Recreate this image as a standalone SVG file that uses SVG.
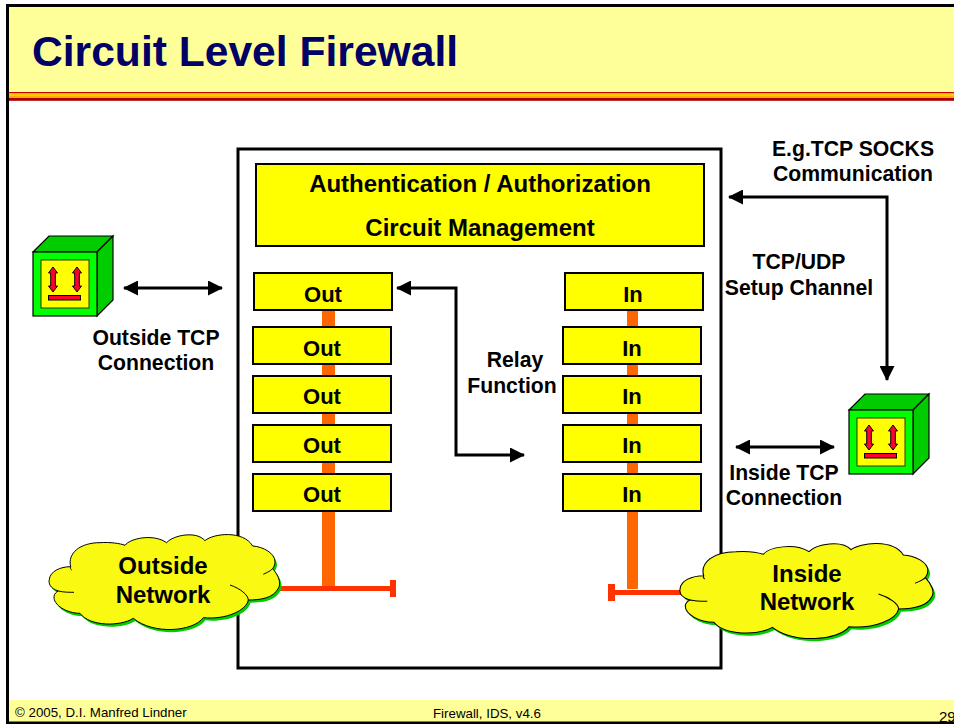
<svg xmlns="http://www.w3.org/2000/svg" width="954" height="724" viewBox="0 0 954 724">
<style>
text{font-family:"Liberation Sans",Arial,sans-serif;fill:#000}
.b{font-weight:bold;font-size:22px;text-anchor:middle}
.m{font-weight:bold;font-size:24px;text-anchor:middle}
.l{font-weight:bold;font-size:24px;text-anchor:middle}
.t{font-weight:bold;font-size:21.200px;text-anchor:middle}
.f{font-size:13.300px}
.box{fill:#ff0;stroke:#000;stroke-width:2}
.conn{fill:none;stroke:#000;stroke-width:3}
.or{fill:#f60}
.rd{fill:#f30}
.cl{fill:#f9f911;stroke:#000;stroke-width:3}
.clg{fill:#00cc00}
.inner{fill:none;stroke:#000;stroke-width:3}
.cf{stroke:#000;stroke-width:1.2}
</style>
<defs>
<marker id="ah" viewBox="0 0 15 15" refX="14" refY="7.5" markerWidth="15" markerHeight="15" markerUnits="userSpaceOnUse" orient="auto-start-reverse"><path d="M0,0L15,7.5L0,15Z" fill="#000"/></marker>
<path id="cp" d="M58,178C60,155 90,140 122,140C112,100 150,68 210,68C240,66 270,70 285,76C300,55 370,40 410,68C430,45 500,32 525,62C550,40 640,30 668,78C700,80 735,100 735,125C735,135 732,140 728,146C745,165 755,190 745,205C730,235 690,240 655,240C650,270 590,300 520,293C490,335 370,345 310,295C270,320 180,320 150,280C110,280 70,255 72,230C72,222 80,215 85,213C60,205 55,190 58,178Z"/>
<g id="cube">
<path class="cf" fill="#0c0" d="M0,0L16,-16H80L64,0Z"/>
<path class="cf" fill="#0c0" d="M64,0L80,-16V48L64,64Z"/>
<rect class="cf" fill="#0f0" width="64" height="64"/>
<rect x="8" y="8" width="48" height="48" fill="#ff0" stroke="#330" stroke-width="1"/>
<path id="ar" fill="#f03" stroke="#000" stroke-width="1" d="M20,15L24.500,21H22.300V34H24.500L20,40L15.500,34H17.700V21H15.500Z"/>
<use href="#ar" x="24"/>
<rect x="15.500" y="43.500" width="32" height="4.500" fill="#f03" stroke="#000" stroke-width="1"/>
</g>
</defs>
<rect width="954" height="724" fill="#fff"/>
<g id="frame">
<rect x="8" y="6" width="946" height="86" fill="#ffff99"/>
<rect x="8" y="700" width="946" height="22" fill="#ffff99"/>
<rect x="8" y="92" width="946" height="1.500" fill="#c00"/>
<rect x="8" y="93.500" width="946" height="2.500" fill="#fc0"/>
<rect x="8" y="96" width="946" height="2" fill="#fa0"/>
<rect x="8" y="98" width="946" height="2.800" fill="#a00"/>
<text x="32" y="65.500" font-size="42.600" font-weight="bold" style="fill:#000066">Circuit Level Firewall</text>
<text x="15" y="717" class="f">© 2005, D.I. Manfred Lindner</text>
<text x="433" y="717.500" class="f">Firewall, IDS, v4.6</text>
<text x="939" y="722" font-size="15">29</text>
<path d="M7.500,724V5.500H954" fill="none" stroke="#000" stroke-width="3"/>
<rect x="6" y="721.500" width="948" height="2.500" fill="#000"/>
</g>
<rect id="gateway" x="238" y="149" width="483" height="519" fill="#fff" stroke="#000" stroke-width="3"/>
<g id="buses">
<rect class="or" x="322" y="310" width="13" height="276"/>
<rect class="or" x="627" y="310" width="11" height="279"/>
<rect class="rd" x="275" y="586" width="118" height="5"/>
<rect class="rd" x="390" y="580" width="6" height="17"/>
<rect class="rd" x="610" y="590" width="80" height="5"/>
<rect class="rd" x="608" y="584" width="7" height="17"/>
</g>
<g id="auth"><rect class="box" x="256" y="164" width="448" height="82"/>
<text class="m" x="480" y="192">Authentication / Authorization</text>
<text class="m" x="480" y="236">Circuit Management</text></g>
<g id="out1"><rect class="box" x="254" y="273" width="138" height="37"/><text class="b" x="323" y="302">Out</text></g>
<g id="out2"><rect class="box" x="253" y="327" width="138" height="37"/><text class="b" x="322" y="356">Out</text></g>
<g id="out3"><rect class="box" x="253" y="376" width="138" height="37"/><text class="b" x="322" y="404">Out</text></g>
<g id="out4"><rect class="box" x="253" y="425" width="138" height="37"/><text class="b" x="322" y="453">Out</text></g>
<g id="out5"><rect class="box" x="253" y="474" width="138" height="37"/><text class="b" x="322" y="502">Out</text></g>
<g id="in1"><rect class="box" x="565" y="273" width="138" height="37"/><text class="b" x="633" y="302">In</text></g>
<g id="in2"><rect class="box" x="563" y="327" width="138" height="37"/><text class="b" x="632" y="356">In</text></g>
<g id="in3"><rect class="box" x="563" y="376" width="138" height="37"/><text class="b" x="632" y="404">In</text></g>
<g id="in4"><rect class="box" x="563" y="425" width="138" height="37"/><text class="b" x="632" y="453">In</text></g>
<g id="in5"><rect class="box" x="563" y="474" width="138" height="37"/><text class="b" x="632" y="502">In</text></g>
<g id="connectors">
<path class="conn" marker-start="url(#ah)" marker-end="url(#ah)" d="M124,288H222"/>
<path class="conn" marker-start="url(#ah)" marker-end="url(#ah)" d="M397,288H456V455H524"/>
<path class="conn" marker-start="url(#ah)" marker-end="url(#ah)" d="M729,197H887V380"/>
<path class="conn" marker-start="url(#ah)" marker-end="url(#ah)" d="M736,447H834"/>
</g>
<g id="outside-host"><use href="#cube" x="33" y="252"/></g>
<g id="inside-host"><use href="#cube" x="849" y="410"/></g>
<g id="outside-cloud">
<g transform="translate(30,520) scale(.3333)">
<use href="#cp" class="clg" x="6" y="8"/>
<use href="#cp" class="cl"/>
<path class="inner" d="M122,140C120,145 122,148 125,150M85,213C100,217 120,217 132,217M600,195C630,205 655,225 655,240M728,146C720,155 705,160 700,163"/>
</g>
<text class="l" x="163" y="574">Outside</text><text class="l" x="163" y="603">Network</text></g>
<g id="inside-cloud">
<g transform="translate(659,529) scale(.3658,.3333)">
<use href="#cp" class="clg" x="6" y="8"/>
<use href="#cp" class="cl"/>
<path class="inner" d="M122,140C120,145 122,148 125,150M85,213C100,217 120,217 132,217M600,195C630,205 655,225 655,240M728,146C720,155 705,160 700,163"/>
</g>
<text class="l" x="807" y="582">Inside</text><text class="l" x="807" y="610">Network</text></g>
<g id="labels">
<text class="t" x="156" y="345">Outside TCP</text>
<text class="t" x="156" y="370">Connection</text>
<text class="t" x="515" y="367">Relay</text>
<text class="t" x="512" y="393">Function</text>
<text class="t" x="853" y="156">E.g.TCP SOCKS</text>
<text class="t" x="853" y="180.500">Communication</text>
<text class="t" x="799" y="268.500">TCP/UDP</text>
<text class="t" x="799" y="294.500">Setup Channel</text>
<text class="t" x="784" y="480">Inside TCP</text>
<text class="t" x="784" y="505">Connection</text>
</g>
</svg>
